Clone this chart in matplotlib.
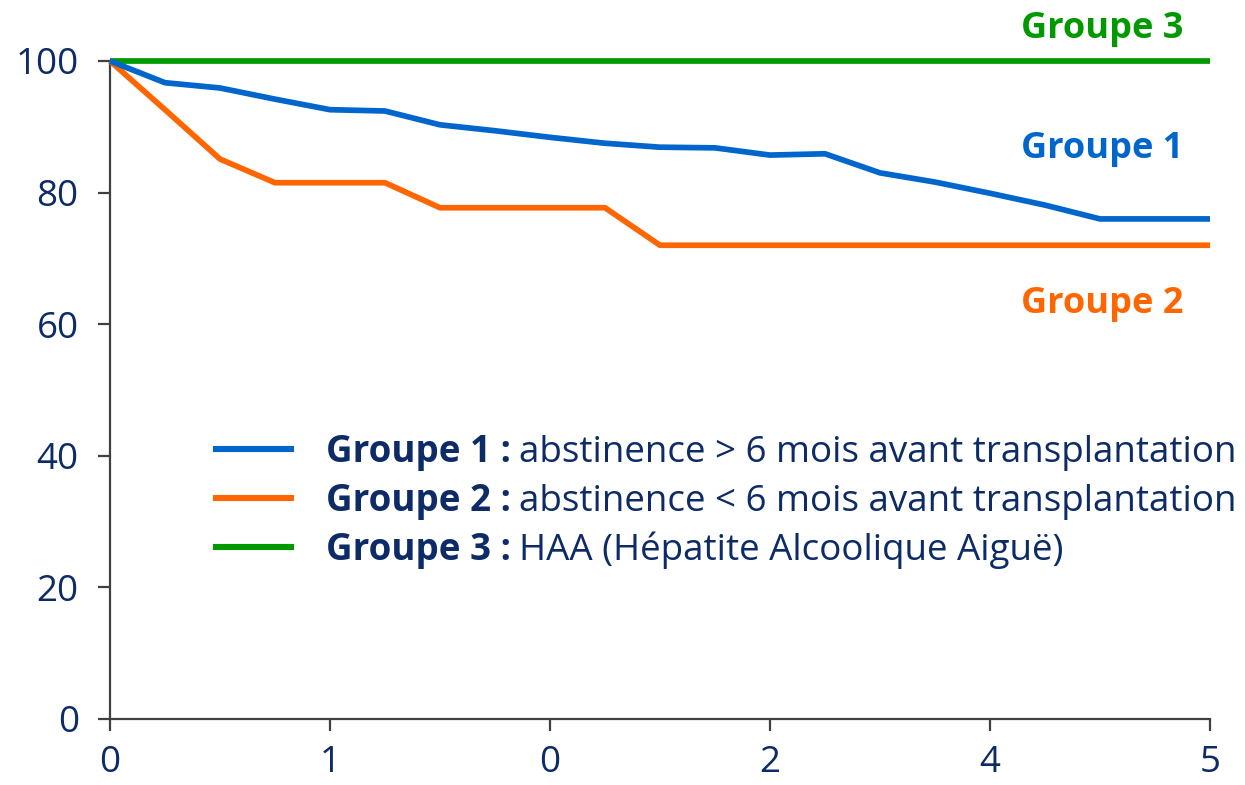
import matplotlib
matplotlib.use("Agg")
import matplotlib.pyplot as plt
from matplotlib.lines import Line2D

plt.rcParams['font.family'] = ['Open Sans', 'DejaVu Sans']

# Data (x in years, step 0.25)
x = [0, 0.25, 0.5, 0.75, 1, 1.25, 1.5, 1.75, 2, 2.25, 2.5, 2.75, 3, 3.25, 3.5, 3.75, 4, 4.25, 4.5, 4.75, 5]
groupe1 = [100, 96.7, 95.9, 94.2, 92.6, 92.4, 90.3, 89.4, 88.4, 87.5, 86.9, 86.8, 85.7, 85.9,
           83.0, 81.6, 79.9, 78.1, 76.0, 76.0, 76.0]
groupe2 = [100, 92.6, 85.1, 81.5, 81.5, 81.5, 77.7, 77.7, 77.7, 77.7, 72.0, 72.0, 72.0, 72.0,
           72.0, 72.0, 72.0, 72.0, 72.0, 72.0, 72.0]
groupe3 = [100] * 21

xticks = [0, 1, 2, 3, 4, 5]
xtick_labels = ["0", "1", "0", "2", "4", "5"]
yticks = [0, 20, 40, 60, 80, 100]

series_names = ["Groupe 1 :", "Groupe 2 :", "Groupe 3 :"]
series_desc = ["abstinence > 6 mois avant transplantation",
               "abstinence < 6 mois avant transplantation",
               "HAA (Hépatite Alcoolique Aiguë)"]
end_labels = ["Groupe 1", "Groupe 2", "Groupe 3"]
end_label_y = [85.3, 61.7, 103.5]

BLUE = "#0066CC"
ORANGE = "#FF6600"
GREEN = "#009900"
NAVY = "#0D2B66"
AXC = "#404040"
colors = [BLUE, ORANGE, GREEN]

fig = plt.figure(figsize=(12.45, 7.85), dpi=100)
ax = fig.add_axes([110/1245, 1-719/785, (1210-110)/1245, (719-61)/785])

lw = 4.1
ax.plot(x, groupe3, color=GREEN, lw=lw, clip_on=False, solid_capstyle='butt', zorder=3)
ax.plot(x, groupe2, color=ORANGE, lw=lw, clip_on=False, solid_capstyle='butt', zorder=4)
ax.plot(x, groupe1, color=BLUE, lw=lw, clip_on=False, solid_capstyle='butt', zorder=5)

ax.set_xlim(0, 5)
ax.set_ylim(0, 100)
ax.set_xticks(xticks)
ax.set_xticklabels(xtick_labels)
ax.set_yticks(yticks)

for s in ["top", "right"]:
    ax.spines[s].set_visible(False)
for s in ["left", "bottom"]:
    ax.spines[s].set_color(AXC)
    ax.spines[s].set_linewidth(1.6)

ax.tick_params(axis='both', direction='out', length=8.5, width=1.6, color=AXC,
               labelcolor=NAVY, labelsize=26.5)
ax.tick_params(axis='y', pad=14)
ax.tick_params(axis='x', pad=10)

# End labels
for lab, yv, c in zip(end_labels, end_label_y, colors):
    ax.text(4.877, yv, lab, color=c, fontsize=26, fontweight='bold', ha='right', va='baseline')

# Legend
LFS = 26.5
handles = [Line2D([0], [0], color=c, lw=4.4) for c in colors]
leg = ax.legend(handles, series_names, loc='upper left', bbox_to_anchor=(106/1100, 1-(433-61)/658),
                frameon=False, borderpad=0, borderaxespad=0,
                prop={'weight': 'bold', 'size': LFS}, handlelength=2.05, handletextpad=0.95,
                labelspacing=0.3, labelcolor=NAVY)

fig.canvas.draw()
renderer = fig.canvas.get_renderer()
for t, desc in zip(leg.get_texts(), series_desc):
    bb = t.get_window_extent(renderer)
    fig.text(bb.x1 + 8, bb.y0, desc, transform=None, fontsize=LFS, color=NAVY,
             va='bottom', ha='left')

fig.savefig("out.png", dpi=100)
